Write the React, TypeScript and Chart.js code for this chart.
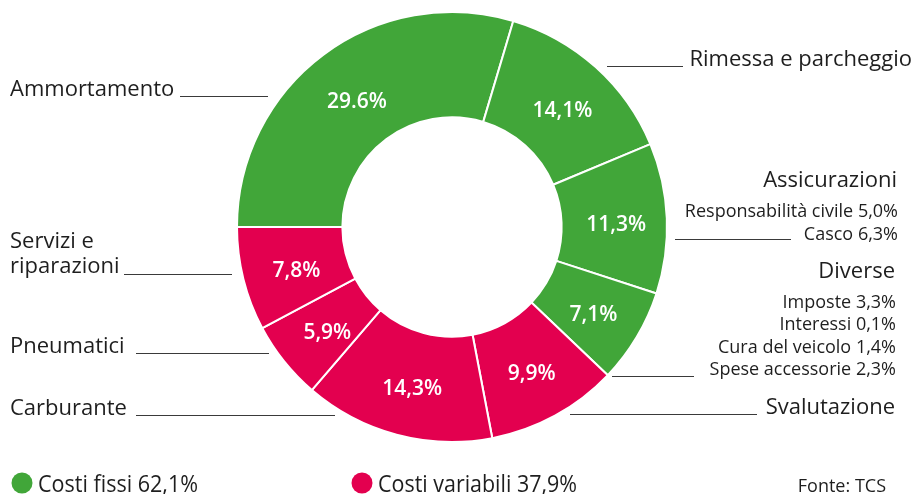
import React, { useEffect, useRef } from 'react';
import { Chart, registerables } from 'chart.js';

Chart.register(...registerables);

// ---- data ----
const categories = [
  'Ammortamento',
  'Rimessa e parcheggio',
  'Assicurazioni',
  'Diverse',
  'Svalutazione',
  'Carburante',
  'Pneumatici',
  'Servizi e riparazioni',
];
const shares = [29.6, 14.1, 11.3, 7.1, 9.9, 14.3, 5.9, 7.8];
const shareLabels = ['29.6%', '14,1%', '11,3%', '7,1%', '9,9%', '14,3%', '5,9%', '7,8%'];
const costGroup = ['fissi', 'fissi', 'fissi', 'fissi', 'variabili', 'variabili', 'variabili', 'variabili'];
const insuranceDetail = ['Responsabilità civile 5,0%', 'Casco 6,3%'];
const diverseDetail = ['Imposte 3,3%', 'Interessi 0,1%', 'Cura del veicolo 1,4%', 'Spese accessorie 2,3%'];
const legendLabels = ['Costi fissi 62,1%', 'Costi variabili 37,9%'];
const sourceNote = 'Fonte: TCS';

const GREEN = '#41a639';
const RED = '#e3004f';
const TEXT = '#1e1e1e';
const LINE = '#3a3a3a';
const FONT = '"Open Sans", Lato, sans-serif';

const colorOf = (g: string) => (g === 'fissi' ? GREEN : RED);

const labelsPlugin = {
  id: 'labelsPlugin',
  afterDraw(chart: any) {
    const ctx = chart.ctx as CanvasRenderingContext2D;
    const meta = chart.getDatasetMeta(0);
    ctx.save();

    // inner percentage labels
    ctx.fillStyle = '#ffffff';
    ctx.font = `600 21px ${FONT}`;
    ctx.textAlign = 'center';
    ctx.textBaseline = 'middle';
    meta.data.forEach((arc: any, i: number) => {
      const p = arc.getProps(['x', 'y', 'startAngle', 'endAngle', 'innerRadius', 'outerRadius'], true);
      const a = (p.startAngle + p.endAngle) / 2;
      const r = (p.innerRadius + p.outerRadius) / 2;
      ctx.fillText(shareLabels[i], p.x + Math.cos(a) * r + 2, p.y + Math.sin(a) * r + 5);
    });

    // outer labels
    const line = (x1: number, x2: number, y: number) => {
      ctx.beginPath();
      ctx.moveTo(x1, y + 0.5);
      ctx.lineTo(x2, y + 0.5);
      ctx.stroke();
    };
    ctx.fillStyle = TEXT;
    ctx.strokeStyle = LINE;
    ctx.lineWidth = 1;
    ctx.textBaseline = 'alphabetic';

    ctx.font = `22px ${FONT}`;
    ctx.textAlign = 'left';
    ctx.fillText(categories[0], 10, 96);
    line(180, 268, 96);

    ctx.fillText('Servizi e', 10, 248);
    ctx.fillText('riparazioni', 10, 273);
    line(124, 232, 274);

    ctx.fillText(categories[6], 10, 353);
    line(136, 269, 353);

    ctx.fillText(categories[5], 10, 415);
    line(136, 335, 415);

    ctx.textAlign = 'right';
    ctx.fillText(categories[1], 912, 66);
    line(607, 683, 66);

    ctx.fillText(categories[2], 897, 187);
    ctx.fillText(categories[3], 895, 278);
    ctx.fillText(categories[4], 895, 414);
    line(570, 757, 414);

    ctx.font = `18px ${FONT}`;
    ctx.fillText(insuranceDetail[0], 898, 217);
    ctx.fillText(insuranceDetail[1], 898, 240);
    line(675, 791, 239);

    const dy = [308, 330, 353, 375];
    diverseDetail.forEach((t, i) => ctx.fillText(t, 896, dy[i]));
    line(612, 694, 376);

    // legend
    const legendX = [22, 362];
    legendLabels.forEach((t, i) => {
      ctx.fillStyle = i === 0 ? GREEN : RED;
      ctx.beginPath();
      ctx.arc(legendX[i], 483, 10.5, 0, Math.PI * 2);
      ctx.fill();
      ctx.fillStyle = TEXT;
      ctx.textAlign = 'left';
      ctx.font = `23px ${FONT}`;
      ctx.fillText(t, legendX[i] + 16, 492, i === 0 ? 160 : 199);
    });
    ctx.font = `18px ${FONT}`;
    ctx.textAlign = 'right';
    ctx.fillText(sourceNote, 886, 492, 91);

    ctx.restore();
  },
};

export default function App() {
  const ref = useRef<HTMLCanvasElement>(null);
  useEffect(() => {
    if (!ref.current) return;
    const chart = new Chart(ref.current, {
      type: 'doughnut',
      data: {
        labels: categories,
        datasets: [
          {
            data: shares,
            backgroundColor: costGroup.map(colorOf),
            borderColor: '#ffffff',
            borderWidth: 2,
            hoverOffset: 0,
          },
        ],
      },
      options: {
        responsive: false,
        animation: false,
        cutout: '51%',
        rotation: -90,
        layout: { padding: { left: 236, right: 249, top: 11, bottom: 51 } },
        plugins: { legend: { display: false }, tooltip: { enabled: false } },
      },
      plugins: [labelsPlugin],
    });
    return () => chart.destroy();
  }, []);
  return (
    <div style={{ position: 'absolute', left: 0, top: 0, width: 917, height: 494, background: '#fff' }}>
      <canvas ref={ref} width={917} height={494} />
    </div>
  );
}
